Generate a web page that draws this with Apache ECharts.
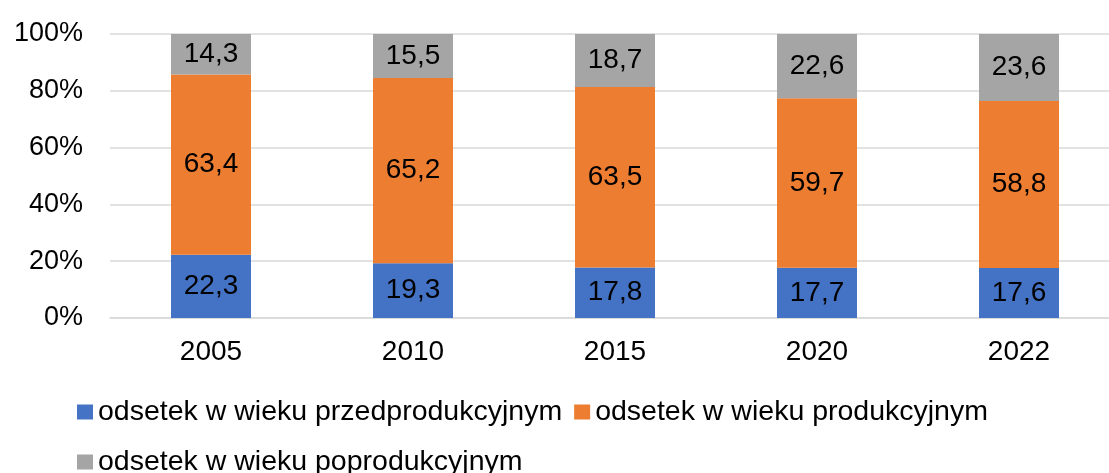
<!DOCTYPE html>
<html>
<head>
<meta charset="utf-8">
<script src="https://cdn.jsdelivr.net/npm/echarts@6/dist/echarts.min.js"></script>
<style>
  html, body { margin: 0; padding: 0; background: #fff; }
  #chart { width: 1109px; height: 473px; }
</style>
</head>
<body>
<div id="chart"></div>
<script>
// lata i odsetki (%) grup wieku
const years = ['2005', '2010', '2015', '2020', '2022'];
const przedprod = [22.3, 19.3, 17.8, 17.7, 17.6];
const prod = [63.4, 65.2, 63.5, 59.7, 58.8];
const poprod = [14.3, 15.5, 18.7, 22.6, 23.6];
const seriesNames = [
  'odsetek w wieku przedprodukcyjnym',
  'odsetek w wieku produkcyjnym',
  'odsetek w wieku poprodukcyjnym',
];
const yTicks = [0, 20, 40, 60, 80, 100];

const FONT = '"Liberation Sans", Arial, sans-serif';
const colors = ['#4472C4', '#ED7D31', '#A5A5A5'];

function fmt(v) { return String(v).replace('.', ','); }

const chart = echarts.init(document.getElementById('chart'));

const mkSeries = (name, data, i) => ({
  name: name,
  type: 'bar',
  stack: 'total',
  data: data,
  barWidth: 80,
  itemStyle: { color: colors[i] },
  label: {
    show: true,
    position: 'inside',
    formatter: p => fmt(p.value),
    color: '#000',
    fontFamily: FONT,
    fontSize: 28,
  },
});

chart.setOption({
  animation: false,
  color: colors,
  // siatka wychodzi trochę poza prawą krawędź, jak w oryginale
  grid: { left: 110, top: 34, width: 1010, bottom: 155, outerBoundsMode: 'none' },
  legend: {
    left: 72,
    top: 388,
    width: 980,
    itemWidth: 16,
    itemHeight: 15,
    itemGap: 12,
    icon: 'rect',
    textStyle: { fontFamily: FONT, fontSize: 28.5, color: '#000', lineHeight: 38 },
    data: seriesNames,
  },
  xAxis: {
    type: 'category',
    data: years,
    axisTick: { show: false },
    axisLine: { lineStyle: { color: '#D9D9D9', width: 1.5 } },
    axisLabel: { fontFamily: FONT, fontSize: 28, color: '#000', margin: 20 },
  },
  yAxis: {
    type: 'value',
    min: yTicks[0],
    max: yTicks[yTicks.length - 1],
    interval: 20,
    axisLine: { show: false },
    axisTick: { show: false },
    splitLine: { lineStyle: { color: '#D9D9D9', width: 1.5 } },
    axisLabel: { fontFamily: FONT, fontSize: 27, color: '#000', margin: 27, formatter: '{value}%' },
  },
  series: [
    mkSeries(seriesNames[0], przedprod, 0),
    mkSeries(seriesNames[1], prod, 1),
    mkSeries(seriesNames[2], poprod, 2),
  ],
});
</script>
</body>
</html>
